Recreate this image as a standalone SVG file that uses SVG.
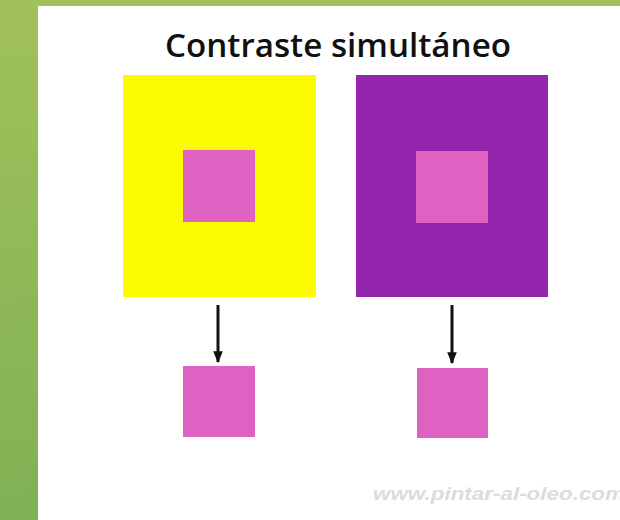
<svg xmlns="http://www.w3.org/2000/svg" width="620" height="520" viewBox="0 0 620 520">
<defs>
<linearGradient id="g" gradientUnits="userSpaceOnUse" x1="0" y1="0" x2="30" y2="520">
<stop offset="0" stop-color="#a1c15a"/>
<stop offset="1" stop-color="#80b155"/>
</linearGradient>
<marker id="ah" viewBox="0 0 10 10" refX="9" refY="5" markerWidth="4" markerHeight="4" orient="auto" markerUnits="strokeWidth">
<path d="M0,1 L10,5 L0,9 z" fill="#111"/>
</marker>
<style>
.pink{fill:#df62c2}
.arrow{stroke:#111;stroke-width:3;fill:none}
.title{font-family:"Open Sans","Liberation Sans",sans-serif;font-weight:600;font-size:33px;fill:#111}
.wm{font-family:"Liberation Sans",sans-serif;font-style:italic;font-weight:bold;font-size:19px;fill:#dcdcdc}
</style>
</defs>
<rect width="620" height="520" fill="#ffffff"/>
<rect x="0" y="0" width="620" height="6" fill="#a1c15a"/>
<rect x="0" y="0" width="38" height="520" fill="url(#g)"/>
<g id="title"><text class="title" x="338" y="57" text-anchor="middle" textLength="346" lengthAdjust="spacingAndGlyphs">Contraste simultáneo</text></g>
<g id="yellow-square">
<rect x="123" y="75" width="193" height="222" fill="#fdfb00"/>
<rect class="pink" x="183" y="150" width="72" height="72"/>
</g>
<g id="purple-square">
<rect x="356" y="75" width="192" height="222" fill="#9425ac"/>
<rect class="pink" x="416" y="151" width="72" height="72"/>
</g>
<g id="pink-left"><rect class="pink" x="183" y="366" width="72" height="71"/></g>
<g id="pink-right"><rect class="pink" x="417" y="368" width="71" height="70"/></g>
<g id="connectors">
<line class="arrow" x1="218" y1="305" x2="218" y2="362" marker-end="url(#ah)"/>
<line class="arrow" x1="452" y1="305" x2="452" y2="363" marker-end="url(#ah)"/>
</g>
<g id="watermark"><text class="wm" x="373" y="500" textLength="252" lengthAdjust="spacingAndGlyphs">www.pintar-al-oleo.com</text></g>
</svg>
